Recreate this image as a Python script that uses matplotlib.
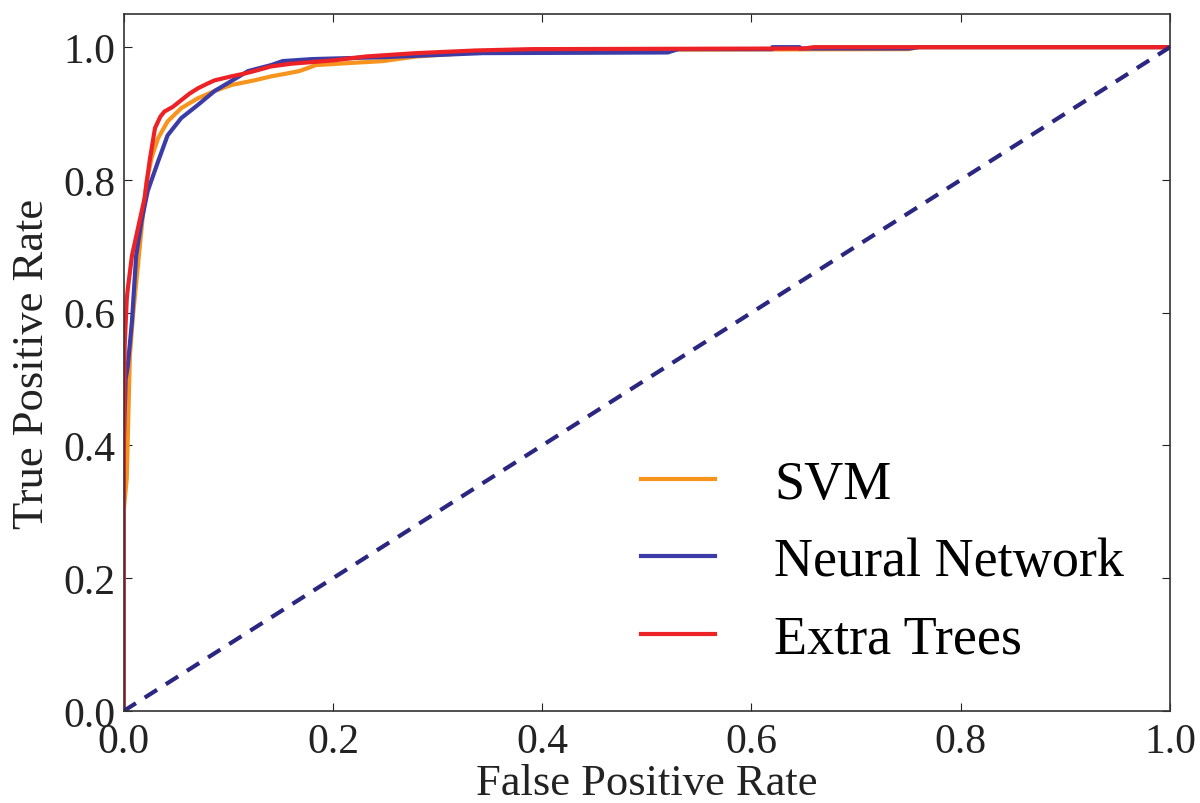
import matplotlib.pyplot as plt

plt.rcParams['font.family'] = ['Liberation Serif', 'DejaVu Serif']

# ROC points
svm_fpr = [0.0, 0.0, 0.003, 0.006, 0.009, 0.013, 0.018, 0.022, 0.027, 0.033, 0.042, 0.055,
           0.071, 0.087, 0.103, 0.125, 0.141, 0.155, 0.168, 0.184, 0.215, 0.248, 0.28,
           0.328, 0.376, 0.45, 0.75, 0.76, 1.0]
svm_tpr = [0.0, 0.30, 0.35, 0.535, 0.596, 0.66, 0.74, 0.798, 0.835, 0.863, 0.888, 0.908,
           0.923, 0.934, 0.943, 0.95, 0.956, 0.96, 0.964, 0.973, 0.976, 0.979, 0.986,
           0.991, 0.994, 0.996, 0.997, 1.0, 1.0]

nn_fpr = [0.0, 0.0, 0.002, 0.004, 0.008, 0.012, 0.017, 0.023, 0.033, 0.042, 0.055, 0.071,
          0.087, 0.103, 0.119, 0.141, 0.152, 0.18, 0.25, 0.343, 0.52, 0.53, 0.62, 0.62,
          0.646, 0.646, 0.75, 0.76, 1.0]
nn_tpr = [0.0, 0.40, 0.50, 0.52, 0.587, 0.686, 0.737, 0.783, 0.828, 0.867, 0.893, 0.913,
          0.934, 0.949, 0.964, 0.973, 0.979, 0.982, 0.985, 0.991, 0.992, 0.997, 0.997, 1.0,
          1.0, 0.998, 0.998, 1.0, 1.0]

et_fpr = [0.0, 0.0, 0.001, 0.003, 0.004, 0.008, 0.013, 0.02, 0.025, 0.03, 0.035, 0.039,
          0.047, 0.055, 0.063, 0.071, 0.08, 0.087, 0.095, 0.103, 0.115, 0.125, 0.141,
          0.16, 0.2, 0.232, 0.28, 0.337, 0.39, 0.65, 0.66, 1.0]
et_tpr = [0.0, 0.30, 0.55, 0.62, 0.636, 0.686, 0.722, 0.772, 0.83, 0.878, 0.895, 0.903,
          0.91, 0.92, 0.93, 0.938, 0.945, 0.95, 0.953, 0.956, 0.96, 0.964, 0.971,
          0.975, 0.98, 0.986, 0.991, 0.995, 0.997, 0.998, 1.0, 1.0]

curves = [
    ("SVM", svm_fpr, svm_tpr, "#f7941d"),
    ("Neural Network", nn_fpr, nn_tpr, "#3c3ca8"),
    ("Extra Trees", et_fpr, et_tpr, "#ec2227"),
]

fig = plt.figure(figsize=(12, 8.04), dpi=100)
ax = fig.add_axes([0.103, 0.1144, 0.872, 0.867])

for label, fpr, tpr, color in curves:
    ax.plot(fpr, tpr, color=color, lw=3, label=label)

# chance line
ax.plot([0, 1], [0, 1], color="#2b2680", lw=3, linestyle=(0, (3.5, 2.5)))

ax.set_xlim(0, 1.0)
ax.set_ylim(0, 1.05)
ax.set_xticks([0.0, 0.2, 0.4, 0.6, 0.8, 1.0])
ax.set_yticks([0.0, 0.2, 0.4, 0.6, 0.8, 1.0])
ax.tick_params(direction="in", top=True, right=True, length=6, width=0.8,
               labelsize=30, colors="#222222")
ax.tick_params(axis="x", pad=8)
ax.tick_params(axis="y", pad=6)
for sp in ax.spines.values():
    sp.set_color("#333333")
    sp.set_linewidth(1.2)

ax.set_xlabel("False Positive Rate", fontsize=32, color="#222222", labelpad=2)
ax.set_ylabel("True Positive Rate", fontsize=32, color="#222222", labelpad=8)

leg = ax.legend(loc="lower right", frameon=False, fontsize=39, handlelength=1.35,
                handletextpad=1.1, labelspacing=0.5, borderaxespad=0.45)

fig.savefig("out.png", dpi=100)
